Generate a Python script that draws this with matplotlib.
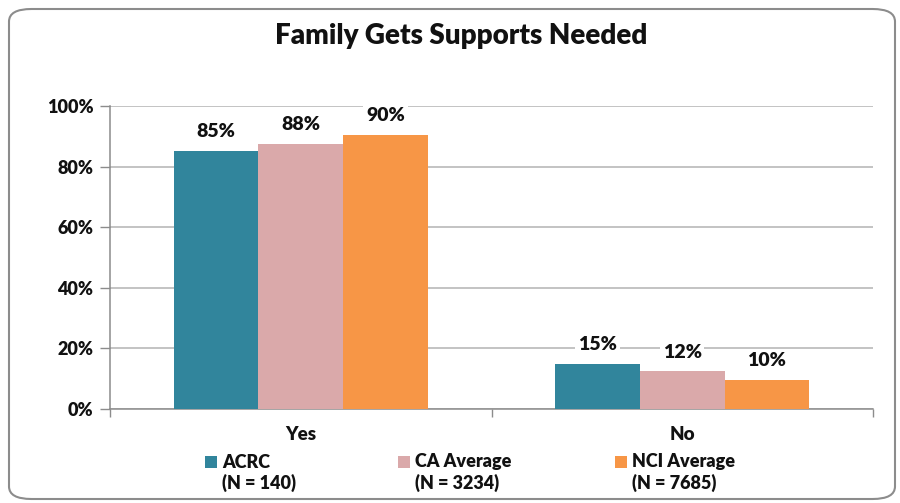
import matplotlib
matplotlib.use("Agg")
import matplotlib.pyplot as plt
from matplotlib.patches import FancyBboxPatch, Rectangle
import numpy as np

categories = ["Yes", "No"]
series_names = ["ACRC", "CA Average", "NCI Average"]
series_n = ["(N = 140)", "(N = 3234)", "(N = 7685)"]
acrc = [85.1, 15.0]
ca_avg = [87.6, 12.4]
nci_avg = [90.3, 9.7]
yticks = [0, 20, 40, 60, 80, 100]
ytick_labels = ["0%", "20%", "40%", "60%", "80%", "100%"]

colors = ["#31859C", "#DAA9AA", "#F79646"]
series_vals = [acrc, ca_avg, nci_avg]

FONT = ["Lato", "DejaVu Sans"]
plt.rcParams["font.family"] = FONT
WT = "heavy"
TXT = "#111111"

fig = plt.figure(figsize=(9, 5.03), dpi=100)

# rounded border
border = FancyBboxPatch((9 / 900, 4 / 503), 886 / 900, 490 / 503,
                        boxstyle="round,pad=0,rounding_size=0.025",
                        transform=fig.transFigure, facecolor="white",
                        edgecolor="#8C8C8C", linewidth=1.5, zorder=-5)
fig.patches.append(border)

ax = fig.add_axes([110 / 900, 1 - 409 / 503, 763 / 900, 303 / 503])
ax.set_facecolor("none")
ax.set_zorder(2)

x = np.arange(len(categories))
w = 0.222
for i, (vals, c) in enumerate(zip(series_vals, colors)):
    pos = x + (i - 1) * w
    bars = ax.bar(pos, vals, width=w, color=c, edgecolor="none", zorder=3)
    for b, v in zip(bars, vals):
        ax.text(b.get_x() + b.get_width() / 2, v + 3.6, f"{v:.0f}%",
                ha="center", va="bottom", fontsize=14, fontweight=WT,
                color=TXT, zorder=5,
                bbox=dict(facecolor="white", edgecolor="none", pad=2))

ax.set_xlim(-0.5, 1.5)
ax.set_ylim(0, 100)
ax.set_yticks(yticks)
ax.set_yticklabels(ytick_labels, fontsize=13, fontweight=WT, color=TXT)
ax.yaxis.grid(True, color="#B3B3B3", linewidth=1.1, zorder=0)
ax.set_axisbelow(True)

ax.set_xticks([-0.5, 0.5, 1.5])
ax.set_xticklabels([])
ax.set_xticks(x, minor=True)
ax.set_xticklabels(categories, minor=True, fontsize=13.5, fontweight=WT, color=TXT)
ax.tick_params(axis="x", which="major", length=6, color="#8C8C8C", width=1)
ax.tick_params(axis="x", which="minor", length=0, pad=12)
ax.tick_params(axis="y", length=7, color="#8C8C8C", width=1, pad=5)

for s in ["top", "right"]:
    ax.spines[s].set_visible(False)
for s in ["left", "bottom"]:
    ax.spines[s].set_color("#8C8C8C")
    ax.spines[s].set_linewidth(1.1)

fig.text(461 / 900, 1 - 36 / 503, "Family Gets Supports Needed", ha="center", va="center",
         fontsize=20, fontweight=WT, color=TXT)

# legend
sq_x = [205, 398, 615]
for i, (name, n, c) in enumerate(zip(series_names, series_n, colors)):
    fig.patches.append(Rectangle((sq_x[i] / 900, 1 - 468 / 503), 12 / 900, 12 / 503,
                                 transform=fig.transFigure, facecolor=c,
                                 edgecolor="none"))
    fig.text((sq_x[i] + 17) / 900, 1 - 462 / 503, name, ha="left", va="center",
             fontsize=13, fontweight=WT, color=TXT)
    fig.text((sq_x[i] + 17) / 900, 1 - 483 / 503, n, ha="left", va="center",
             fontsize=13, fontweight=WT, color=TXT)

fig.savefig("out.png", dpi=100)
